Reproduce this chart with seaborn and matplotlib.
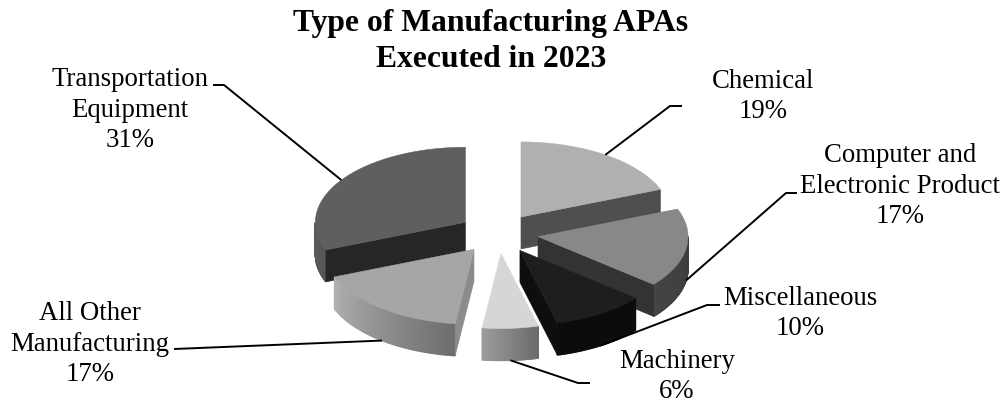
import numpy as np
import seaborn as sns
import matplotlib.pyplot as plt

categories = [
    "Chemical",
    "Computer and\nElectronic Product",
    "Miscellaneous",
    "Machinery",
    "All Other\nManufacturing",
    "Transportation\nEquipment",
]
shares = [19, 17, 10, 6, 17, 31]

# styles, same order as categories
top_colors = ["#b0b0b0", "#888888", "#1e1e1e", "#d6d6d6", "#a6a6a6", "#5f5f5f"]
cut_colors = ["#4f4f4f", "#333333", "#0e0e0e", "#a0a0a0", "#8c8c8c", "#262626"]
wall_left = ["#4f4f4f", "#444444", "#0c0c0c", "#9c9c9c", "#b0b0b0", "#5a5a5a"]
wall_right = ["#4f4f4f", "#3c3c3c", "#0c0c0c", "#6a6a6a", "#6e6e6e", "#555555"]

# layout, in pixels
CX, CY = 498.5, 233.5
RX, RY = 150, 75
DEPTH = 32
EXPLODE = 40
# x centre and baseline of the last line of each label
label_xy = [(763, 118), (900, 223), (800, 335), (677, 398), (90, 381), (130, 147)]
# label side end of each leader: elbow, then end of the horizontal stub
leader_xy = [
    ((670, 106), (682, 106)),
    ((786, 193), (797, 193)),
    ((707, 305), (720, 305)),
    ((578, 383), (590, 383)),
    ((174, 349), (174, 349)),
    ((224, 85), (213, 85)),
]

sns.set_theme(style="white")
plt.rcParams["font.family"] = ["Liberation Serif", "DejaVu Serif"]

fig, ax = plt.subplots(figsize=(10.07, 4.04), dpi=100)
fig.subplots_adjust(0, 0, 1, 1)
ax.set_xlim(0, 1007)
ax.set_ylim(404, 0)
ax.axis("off")


def rim(ox, oy, deg):
    t = np.radians(deg)
    return ox + RX * np.sin(t), oy - RY * np.cos(t)


def draw_slice(i, start, end):
    mid = np.radians((start + end) / 2)
    ox = CX + EXPLODE * np.sin(mid)
    oy = CY - EXPLODE * RY / RX * np.cos(mid)

    # outer wall, only the front half of the ellipse shows
    a, b = max(start, 90), min(end, 270)
    if b > a:
        steps = np.linspace(a, b, 61)
        shades = sns.blend_palette([wall_right[i], wall_left[i]], len(steps) - 1)
        for s0, s1, c in zip(steps[:-1], steps[1:], shades):
            x0, y0 = rim(ox, oy, s0)
            x1, y1 = rim(ox, oy, s1)
            ax.fill([x0, x1, x1, x0], [y0, y1, y1 + DEPTH, y0 + DEPTH],
                    color=c, lw=1.0, zorder=i_z)

    # radial cut faces
    for deg, visible in ((start, np.sin(np.radians(start)) < -1e-6),
                         (end, np.sin(np.radians(end)) > 1e-6)):
        if visible:
            x, y = rim(ox, oy, deg)
            ax.fill([ox, x, x, ox], [oy, y, y + DEPTH, oy + DEPTH],
                    color=cut_colors[i], lw=0.4, zorder=i_z)

    # top face
    xs, ys = rim(ox, oy, np.linspace(start, end, 80))
    ax.fill(np.r_[ox, xs], np.r_[oy, ys], color=top_colors[i], lw=0.4, zorder=i_z)

    # where the leader touches the slice
    x, y = rim(ox, oy, (start + end) / 2)
    if np.cos(mid) < 0.2:
        y += DEPTH
    return x, y


edges = np.cumsum([0] + shares) * 3.6
order = sorted(range(len(shares)), key=lambda k: -np.cos(np.radians(edges[k] + edges[k + 1]) / 2))
anchors = {}
for i_z, k in enumerate(order, start=2):
    anchors[k] = draw_slice(k, edges[k], edges[k + 1])

for k, name in enumerate(categories):
    (ex, ey), (sx, sy) = leader_xy[k]
    x, y = anchors[k]
    ax.plot([x, ex, sx], [y, ey, sy], color="black", lw=1.4, zorder=20, solid_capstyle="butt")
    ax.text(label_xy[k][0], label_xy[k][1], f"{name}\n{shares[k]}%", ha="center", va="baseline",
            fontsize=19.3, color="black", linespacing=1.28, zorder=21)

ax.text(491, 67, "Type of Manufacturing APAs\nExecuted in 2023", ha="center", va="baseline",
        fontsize=22.8, fontweight="bold", color="black", linespacing=1.32)

fig.savefig("out.png", dpi=100)
